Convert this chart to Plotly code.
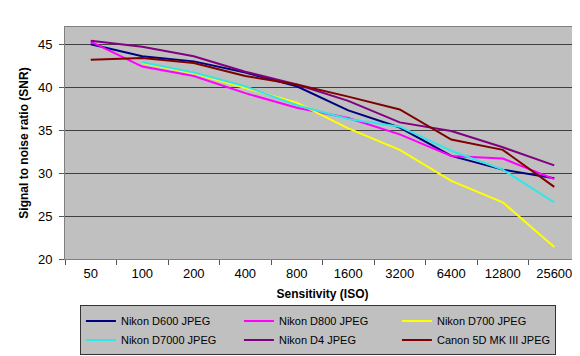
import plotly.graph_objects as go

iso = ["50", "100", "200", "400", "800", "1600", "3200", "6400", "12800", "25600"]

d600 = [45.0, 43.6, 43.0, 41.7, 40.1, 37.3, 35.3, 32.0, 30.4, 29.4]
d800 = [45.3, 42.4, 41.3, 39.3, 37.6, 36.4, 34.5, 32.0, 31.7, 29.3]
d700 = [None, 42.8, 41.6, 39.9, 38.2, 35.2, 32.7, 29.1, 26.6, 21.4]
d7000 = [None, 42.9, 41.7, 40.1, 37.9, 36.3, 35.4, 32.6, 30.4, 26.6]
d4 = [45.4, 44.7, 43.6, 41.8, 40.3, 38.4, 35.9, 34.9, 33.0, 30.9]
canon = [43.2, 43.4, 42.8, 41.3, 40.3, 38.9, 37.4, 33.9, 32.7, 28.4]

series = [
    ("Nikon D600 JPEG", d600, "#000080"),
    ("Nikon D800 JPEG", d800, "#FF00FF"),
    ("Nikon D700 JPEG", d700, "#FFFF00"),
    ("Nikon D7000 JPEG", d7000, "#33E6E6"),
    ("Nikon D4 JPEG", d4, "#800080"),
    ("Canon 5D MK III JPEG", canon, "#800000"),
]

font_family = "Liberation Sans, Arial, sans-serif"

fig = go.Figure()
for name, vals, color in series:
    fig.add_trace(go.Scatter(
        x=iso, y=vals, name=name, mode="lines",
        line=dict(color=color, width=2),
        connectgaps=False,
    ))

fig.update_layout(
    width=580, height=356,
    margin=dict(l=57, r=8, t=19, b=97),
    paper_bgcolor="white",
    plot_bgcolor="#C0C0C0",
    font=dict(family=font_family, size=12, color="black"),
    showlegend=True,
    legend=dict(
        orientation="h",
        x=0.029, y=-0.2, xanchor="left", yanchor="top",
        xref="paper", yref="paper",
        bgcolor="#C0C0C0", bordercolor="#333333", borderwidth=1,
        font=dict(family=font_family, size=11, color="black"),
        entrywidth=113, entrywidthmode="pixels",
        itemwidth=30,
        tracegroupgap=0,
    ),
)

fig.update_xaxes(
    type="category",
    range=[-0.5, 9.5],
    tickson="boundaries",
    ticks="outside", ticklen=5, tickcolor="#555555",
    showgrid=False,
    showline=True, linecolor="#808080", linewidth=1, mirror=True,
    tickfont=dict(size=13, color="black"),
    ticklabelstandoff=2,
    title=dict(text="Sensitivity (ISO)", font=dict(size=12, weight="bold"), standoff=10),
)

fig.update_yaxes(
    range=[20, 47],
    tick0=20, dtick=5,
    ticks="outside", ticklen=5, tickcolor="#555555",
    showgrid=True, gridcolor="#404040", gridwidth=1,
    showline=True, linecolor="#808080", linewidth=1, mirror=True,
    zeroline=False,
    tickfont=dict(size=13, color="black"),
    ticklabelstandoff=4,
    title=dict(text="Signal to noise ratio (SNR)", font=dict(size=12, weight="bold"), standoff=6),
)

fig.write_html("out.html")
